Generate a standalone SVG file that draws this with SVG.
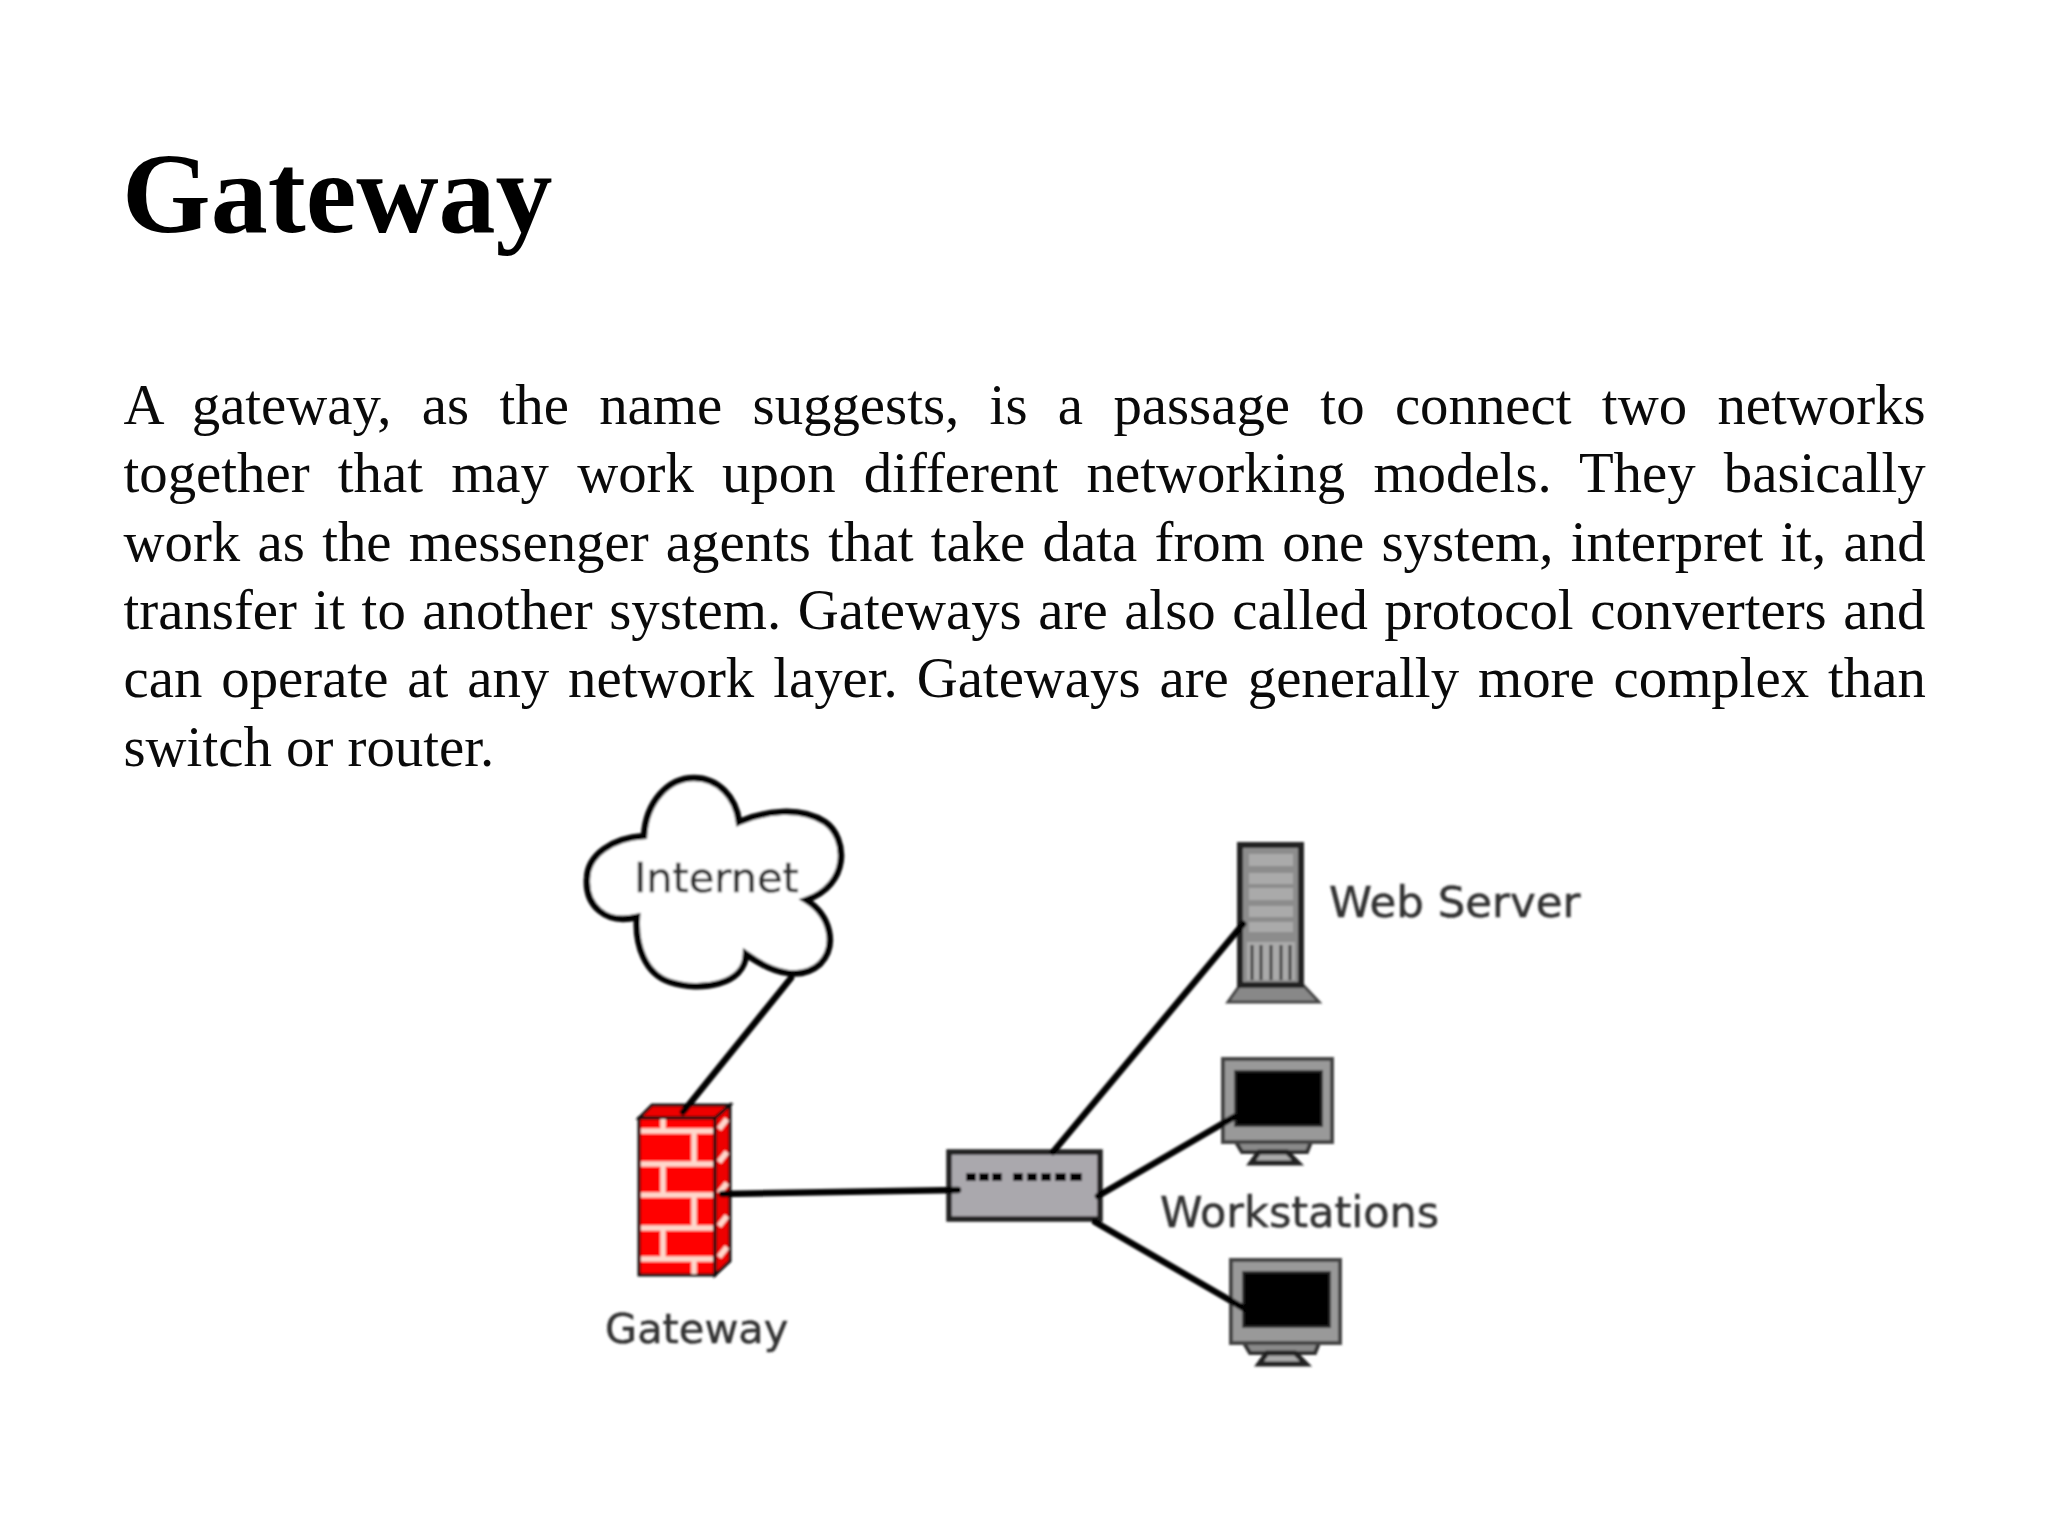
<svg xmlns="http://www.w3.org/2000/svg" width="2048" height="1536" viewBox="0 0 2048 1536">
<style>
.title{font:bold 114px "Liberation Serif","Times New Roman",serif;fill:#000}
.body{font:56.8px "Liberation Serif","Times New Roman",serif;fill:#0a0a0a}
.lbl{font:41.5px "DejaVu Sans","Liberation Sans",sans-serif;fill:#333;stroke:#333;stroke-width:.5}
.conn{stroke:#000;stroke-width:6.5;fill:none;stroke-linecap:round}
.mortar{stroke:#ffd8cc;stroke-width:5.5;fill:none}
.port{fill:#000}
.bay{fill:#aaa;stroke:none}
.vent{stroke:#444;stroke-width:3}
</style>
<defs>
<filter id="soft" x="-5%" y="-5%" width="110%" height="110%"><feGaussianBlur stdDeviation="0.9"/></filter>
<clipPath id="clipWeb"><rect x="1320" y="865" width="262" height="75"/></clipPath>
<g id="monitor">
<path d="M1236 1142L1311 1142L1307 1152L1242 1152Z" fill="#8a8a8a" stroke="#333" stroke-width="4"/>
<path d="M1259 1152L1287 1152L1298 1163L1251 1163Z" fill="#aaa" stroke="#222" stroke-width="5"/>
<rect x="1223" y="1059" width="109" height="83" fill="#999" stroke="#444" stroke-width="4"/>
<rect x="1235" y="1071" width="87" height="55" fill="#000" stroke="#333" stroke-width="2"/>
</g>
</defs>
<rect width="2048" height="1536" fill="#fff"/>
<text id="title" class="title" x="122" y="232">Gateway</text>
<g id="paragraph">
<text class="body" x="123.5" y="424" word-spacing="16.15">A gateway, as the name suggests, is a passage to connect two networks</text>
<text class="body" x="123.5" y="492" word-spacing="14">together that may work upon different networking models. They basically</text>
<text class="body" x="123.5" y="560.5" word-spacing="3.1">work as the messenger agents that take data from one system, interpret it, and</text>
<text class="body" x="123.5" y="629" word-spacing="2.36">transfer it to another system. Gateways are also called protocol converters and</text>
<text class="body" x="123.5" y="697" word-spacing="4.72">can operate at any network layer. Gateways are generally more complex than</text>
<text class="body" x="123.5" y="765.5">switch or router.</text>
</g>
<g filter="url(#soft)">
<g id="node-internet">
<path d="M644 836C646 802 668 778 694 778C718 778 736 797 739 822C765 811 800 806 825 822C848 838 850 885 806 900C830 915 838 945 820 964C802 980 775 975 746 954C745 985 700 992 670 982C645 974 635 945 637 917C605 925 585 905 587 878C588 855 612 838 644 836Z" fill="#fff" stroke="#000" stroke-width="6.5"/>
<text class="lbl" x="634" y="892">Internet</text>
</g>
<g id="node-gateway">
<path d="M639 1118L652 1105L730 1105L716 1118Z" fill="#e00" stroke="#111" stroke-width="3"/>
<rect x="639" y="1118" width="76" height="157" fill="#f00" stroke="#111" stroke-width="3"/>
<path d="M715 1118L730 1105L730 1261L715 1275Z" fill="#e00" stroke="#111" stroke-width="3"/>
<path class="mortar" d="M641 1131H713M641 1164H713M641 1195H713M641 1228H713M641 1259H713M663 1119V1131M694 1131V1164M663 1164V1195M694 1195V1228M663 1228V1259M694 1259V1274M719 1129L727 1119M719 1162L727 1152M719 1193L727 1183M719 1226L727 1216M719 1257L727 1247"/>
<text class="lbl" x="605" y="1343">Gateway</text>
</g>
<g id="node-switch">
<rect x="949" y="1152" width="151" height="67" fill="#aaa8ad" stroke="#222" stroke-width="5.5"/>
<rect class="port" x="966" y="1173" width="10" height="8"/><rect class="port" x="979" y="1173" width="10" height="8"/><rect class="port" x="992" y="1173" width="10" height="8"/>
<rect class="port" x="1013" y="1173" width="10" height="8"/><rect class="port" x="1027" y="1173" width="10" height="8"/><rect class="port" x="1041" y="1173" width="10" height="8"/><rect class="port" x="1055" y="1173" width="11" height="8"/><rect class="port" x="1070" y="1173" width="12" height="8"/>
</g>
<g id="node-webserver">
<path d="M1228 1002L1319 1002L1303 985L1240 985Z" fill="#888" stroke="#444" stroke-width="3"/>
<rect x="1240" y="845" width="61" height="140" fill="#8c8c8c" stroke="#222" stroke-width="6"/>
<rect class="bay" x="1249" y="854" width="44" height="12"/><rect class="bay" x="1249" y="873" width="44" height="11"/><rect class="bay" x="1249" y="888" width="44" height="12"/><rect class="bay" x="1249" y="906" width="44" height="11"/><rect class="bay" x="1249" y="922" width="44" height="10"/><rect class="bay" x="1247" y="942" width="48" height="38"/>
<path class="vent" d="M1252 945V980M1261 945V980M1271 945V980M1281 945V980M1290 945V980"/>
<text class="lbl" style="font-size:43.5px" x="1329" y="917" clip-path="url(#clipWeb)">Web Server</text>
</g>
<g id="node-workstation-1"><use href="#monitor"/></g>
<g id="node-workstation-2"><use href="#monitor" transform="translate(8 201)"/></g>
<text id="label-workstations" class="lbl" style="font-size:43px" x="1160" y="1227">Workstations</text>
<g id="connectors">
<line class="conn" x1="791" y1="978" x2="683" y2="1112"/>
<line class="conn" x1="722" y1="1194" x2="958" y2="1190"/>
<line class="conn" x1="1053" y1="1152" x2="1243" y2="924"/>
<line class="conn" x1="1098" y1="1196" x2="1234" y2="1117"/>
<line class="conn" x1="1095" y1="1222" x2="1245" y2="1309"/>
</g>
</g>
</svg>
